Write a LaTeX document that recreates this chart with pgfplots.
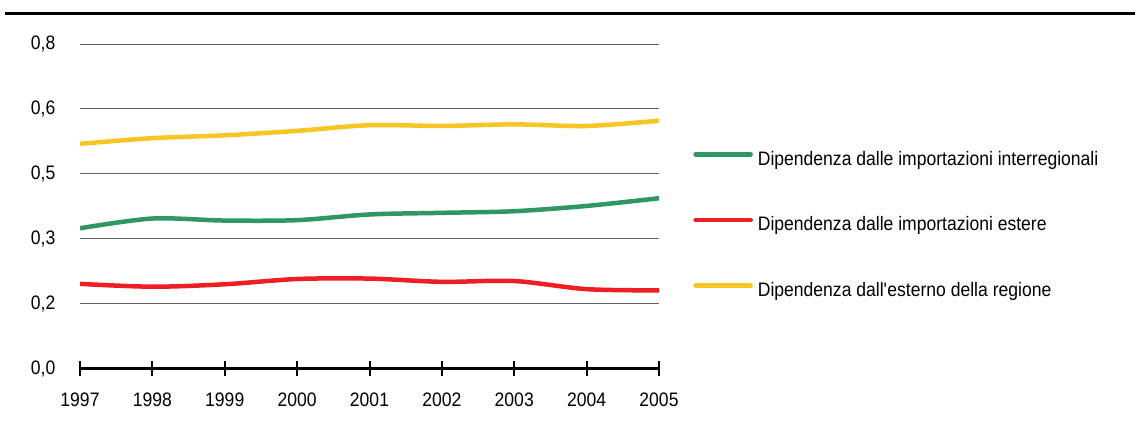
\documentclass[border=0pt]{standalone}
\usepackage{fontspec}
\setmainfont{Liberation Sans}[FakeStretch=0.9]
\usepackage{pgfplots}
\pgfplotsset{compat=1.18}
\definecolor{cgreen}{RGB}{48,150,100}
\definecolor{cred}{RGB}{237,30,36}
\definecolor{cyellow}{RGB}{246,198,35}
\newcommand{\lfont}{\fontsize{19.5bp}{23bp}\selectfont}
\begin{document}
\lfont
\begin{tikzpicture}
\path[use as bounding box] (0,0) rectangle (1135bp,421bp);
\draw[line width=3bp] (5bp,407bp) -- (1135bp,407bp);
\begin{axis}[
  at={(80bp,52.3bp)}, anchor=south west,
  scale only axis, width=579bp, height=324.7bp,
  xmin=1997, xmax=2005, ymin=0, ymax=0.8,
  axis x line*=bottom, axis y line*=left,
  y axis line style={draw=none},
  x axis line style={line width=3bp, black},
  xtick={1997,1998,1999,2000,2001,2002,2003,2004,2005},
  xticklabels={1997,1998,1999,2000,2001,2002,2003,2004,2005},
  ytick={0,0.16,0.32,0.48,0.64,0.8},
  yticklabels={{0,0},{0,2},{0,3},{0,5},{0,6},{0,8}},
  tick align=center,
  major tick length=15bp,
  x tick style={black, line width=2bp},
  y tick style={draw=none},
  ymajorgrids, major grid style={black!62, line width=0.9bp},
  tick label style={font=\lfont},
  yticklabel style={anchor=east, inner sep=0pt, xshift=-17bp},
  xticklabel style={anchor=north, inner sep=0pt, yshift=-16bp},
  legend style={draw=none, fill=none, at={(1.059,0.4395)}, anchor=west,
    font=\lfont, row sep=47.5bp, inner sep=0pt,
    nodes={inner sep=0pt, text height=14bp, text depth=4bp},
    /tikz/every odd column/.append style={column sep=5bp}},
  legend cell align=left,
  legend image code/.code={\draw[line width=4.5bp, line cap=round] (1bp,0.3em) -- (56bp,0.3em);},
  every axis plot/.append style={line width=4.5bp, line cap=round, smooth, no markers},
]
\addplot[cgreen] coordinates {(1997,0.346) (1998,0.370) (1999,0.365) (2000,0.366) (2001,0.380) (2002,0.384) (2003,0.388) (2004,0.401) (2005,0.420)};
\addlegendentry{Dipendenza dalle importazioni interregionali}
\addplot[cred] coordinates {(1997,0.209) (1998,0.202) (1999,0.208) (2000,0.221) (2001,0.222) (2002,0.214) (2003,0.216) (2004,0.196) (2005,0.193)};
\addlegendentry{Dipendenza dalle importazioni estere}
\addplot[cyellow] coordinates {(1997,0.554) (1998,0.568) (1999,0.575) (2000,0.586) (2001,0.600) (2002,0.598) (2003,0.602) (2004,0.598) (2005,0.611)};
\addlegendentry{Dipendenza dall\textquotesingle esterno della regione}
\end{axis}
\end{tikzpicture}
\end{document}
